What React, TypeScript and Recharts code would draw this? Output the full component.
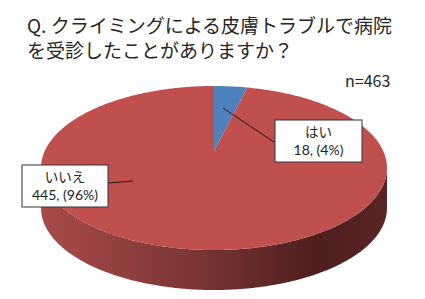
import React from 'react';
import { PieChart, Pie, Cell } from 'recharts';

// answers to the survey question
const categories = ['はい', 'いいえ'];
const counts = [18, 445];
const percentLabels = ['4%', '96%'];
const sliceColors = ['#4f81bd', '#c0504d'];
const sampleSize = 463;

const data = categories.map((name, i) => ({ name, value: counts[i], pct: percentLabels[i] }));

// 3D look
const RY_RATIO = 0.474;
const DEPTH = 40;
const APEX_SHIFT = 17;
const RAD = Math.PI / 180;

// label boxes, relative to the pie centre
const labelBoxes = [
  { dx: 61, dy: -48, w: 87, h: 42, line: [9, -60, 60, -26] },
  { dx: -192, dy: -3, w: 86, h: 42, line: [-81, 13, -106, 15] },
];

const FONT = '"Noto Sans CJK JP", "Noto Sans", sans-serif';
const NUM_FONT = 'Lato, "Liberation Sans", sans-serif';

// perspective: the slice apex sits above the ellipse centre, so map the
// slice angle to the ellipse parameter where its edge meets the rim
const rimAngle = (theta: number, k: number) => {
  const s = Math.sin(theta * RAD);
  const c = Math.cos(theta * RAD);
  const t = -k * s + Math.sqrt(k * k * s * s - k * k + 1);
  let phi = Math.atan2(k + t * s, t * c) / RAD;
  while (phi - theta > 180) phi -= 360;
  while (theta - phi > 180) phi += 360;
  return phi;
};

const ellipsePt = (cx: number, cy: number, rx: number, ry: number, a: number) => [
  cx + rx * Math.cos(a * RAD),
  cy - ry * Math.sin(a * RAD),
];

const arcPoints = (cx: number, cy: number, rx: number, ry: number, a1: number, a2: number) => {
  const n = Math.max(2, Math.ceil(Math.abs(a2 - a1)));
  const pts: number[][] = [];
  for (let i = 0; i <= n; i++) {
    pts.push(ellipsePt(cx, cy, rx, ry, a1 + ((a2 - a1) * i) / n));
  }
  return pts;
};

const toPath = (pts: number[][]) =>
  pts.map((p, i) => `${i === 0 ? 'M' : 'L'}${p[0].toFixed(2)},${p[1].toFixed(2)}`).join(' ') + ' Z';

const EllipseSlice = (props: any) => {
  const { cx, cy, outerRadius, startAngle, endAngle, fill } = props;
  const rx = outerRadius;
  const ry = outerRadius * RY_RATIO;
  const k = APEX_SHIFT / ry;
  const p0 = rimAngle(startAngle, k);
  const p1 = rimAngle(endAngle, k);
  const lo = Math.min(p0, p1);
  const hi = Math.max(p0, p1);

  // front wall: only the lower half of the ellipse is visible
  const sides: number[][][] = [];
  for (const [f0, f1] of [[-540, -360], [-180, 0], [180, 360]]) {
    const a1 = Math.max(lo, f0);
    const a2 = Math.min(hi, f1);
    if (a2 > a1) {
      const top = arcPoints(cx, cy, rx, ry, a1, a2);
      const bottom = top.map(([x, y]) => [x, y + DEPTH]).reverse();
      sides.push([...top, ...bottom]);
    }
  }

  const apex = [cx, cy - APEX_SHIFT];
  const topFace = [apex, ...arcPoints(cx, cy, rx, ry, p0, p1)];

  return (
    <g>
      <defs>
        <linearGradient id="sideGrad" gradientUnits="userSpaceOnUse" x1={cx - rx} y1={0} x2={cx + rx} y2={0}>
          <stop offset="0%" stopColor="#a84b4a" />
          <stop offset="45%" stopColor="#7b3535" />
          <stop offset="80%" stopColor="#4e1e1e" />
          <stop offset="100%" stopColor="#5a2525" />
        </linearGradient>
      </defs>
      {sides.map((s, i) => (
        <path key={i} d={toPath(s)} fill="url(#sideGrad)" stroke="none" />
      ))}
      <path d={toPath(topFace)} fill={fill} stroke="none" />
    </g>
  );
};

const renderLabel = (props: any) => {
  const { cx, cy, index, payload } = props;
  const box = labelBoxes[index];
  const x = cx + box.dx;
  const y = cy + box.dy;
  const [x1, y1, x2, y2] = box.line;
  return (
    <g>
      <line x1={cx + x1} y1={cy + y1} x2={cx + x2} y2={cy + y2} stroke="#1a1a1a" strokeWidth={1} />
      <rect x={x} y={y} width={box.w} height={box.h} fill="#ffffff" stroke="#333333" strokeWidth={1} />
      <text x={x + box.w / 2} y={y + 17} textAnchor="middle" fontSize={13.5} fill="#222" fontFamily={FONT}>
        {payload.name}
      </text>
      <text x={x + box.w / 2} y={y + 35} textAnchor="middle" fontSize={14} fill="#222" fontFamily={NUM_FONT}>
        {`${payload.value}, (${payload.pct})`}
      </text>
    </g>
  );
};

export default function App() {
  return (
    <div style={{ position: 'absolute', left: 0, top: 0, width: 425, height: 299, background: '#fff' }}>
      <div
        style={{
          position: 'absolute',
          left: 27,
          top: 12,
          fontFamily: FONT,
          fontSize: 19,
          lineHeight: '25px',
          color: '#262626',
          whiteSpace: 'nowrap',
        }}
      >
        Q. クライミングによる皮膚トラブルで病院
        <br />
        を受診したことがありますか？
      </div>
      <div
        style={{
          position: 'absolute',
          left: 345,
          top: 68,
          fontFamily: FONT,
          fontSize: 16,
          color: '#262626',
        }}
      >
        n={sampleSize}
      </div>
      <div style={{ position: 'absolute', left: 0, top: 0 }}>
        <PieChart width={425} height={299} margin={{ top: 0, right: 0, bottom: 0, left: 0 }}>
          <Pie
            data={data}
            dataKey="value"
            nameKey="name"
            cx={214}
            cy={168}
            outerRadius={173}
            startAngle={90}
            endAngle={-270}
            stroke="none"
            isAnimationActive={false}
            shape={EllipseSlice}
            activeShape={EllipseSlice}
            label={renderLabel}
            labelLine={false}
          >
            {data.map((d, i) => (
              <Cell key={d.name} fill={sliceColors[i]} />
            ))}
          </Pie>
        </PieChart>
      </div>
    </div>
  );
}
